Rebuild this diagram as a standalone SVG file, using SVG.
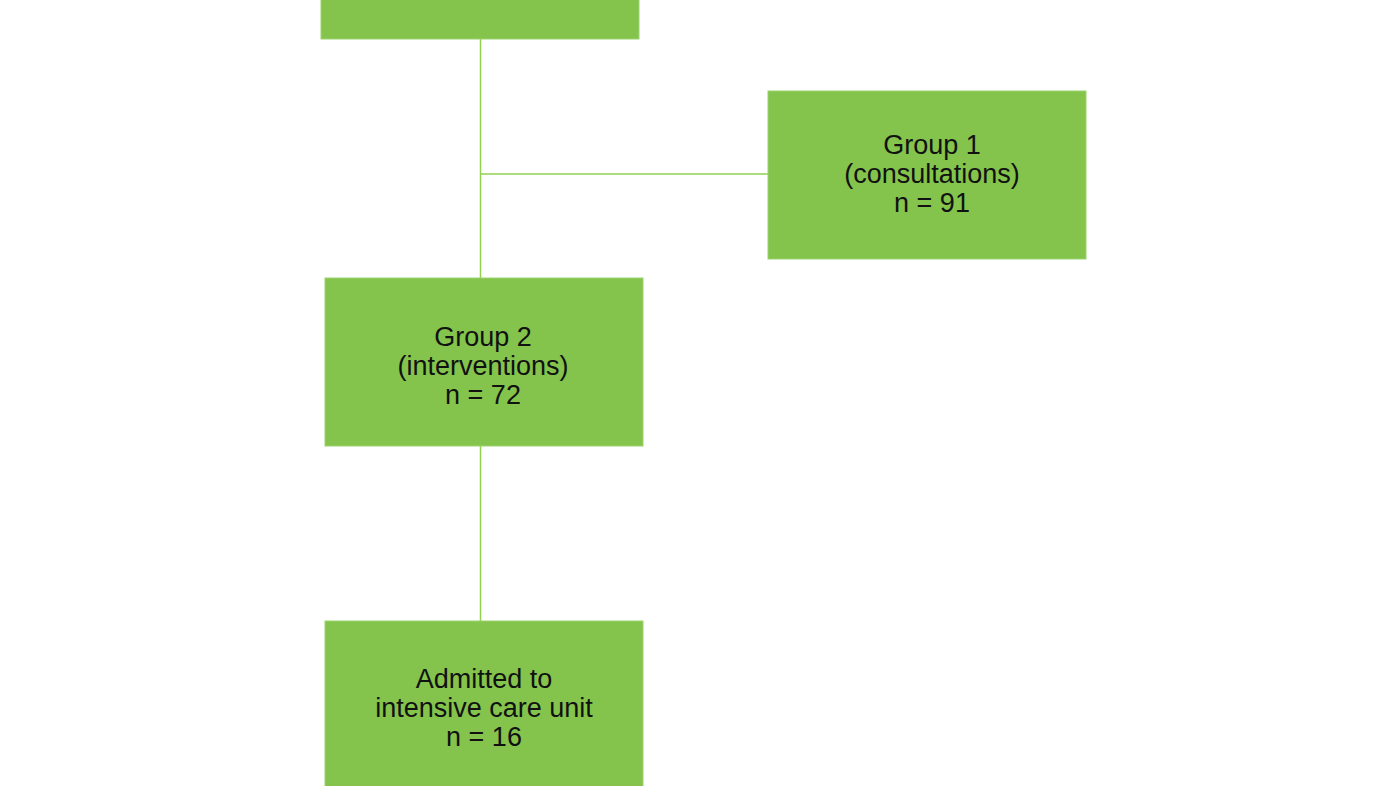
<svg xmlns="http://www.w3.org/2000/svg" width="1400" height="786" viewBox="0 0 1400 786">
<style>
.box{fill:#84C44C;stroke:#9AD46E;stroke-width:1}
.lbl{font-family:"Liberation Sans",Arial,sans-serif;font-size:27px;fill:#111;text-anchor:middle}
.conn{stroke:#92D050;stroke-width:1.5;fill:none}
</style>
<rect width="1400" height="786" fill="#fff"/>
<g id="connectors">
<line class="conn" x1="480.5" y1="39" x2="480.5" y2="278"/>
<line class="conn" x1="480.5" y1="174" x2="768" y2="174"/>
<line class="conn" x1="480.5" y1="446" x2="480.5" y2="621"/>
</g>
<g id="top">
<rect class="box" x="321" y="-5" width="318" height="44"/>
</g>
<g id="group1">
<rect class="box" x="768" y="91" width="318" height="168"/>
<text class="lbl" x="932" y="154">Group 1</text>
<text class="lbl" x="932" y="183">(consultations)</text>
<text class="lbl" x="932" y="212">n = 91</text>
</g>
<g id="group2">
<rect class="box" x="325" y="278" width="318" height="168"/>
<text class="lbl" x="483" y="346">Group 2</text>
<text class="lbl" x="483" y="375">(interventions)</text>
<text class="lbl" x="483" y="404">n = 72</text>
</g>
<g id="icu">
<rect class="box" x="325" y="621" width="318" height="170"/>
<text class="lbl" x="484" y="688">Admitted to</text>
<text class="lbl" x="484" y="717">intensive care unit</text>
<text class="lbl" x="484" y="746">n = 16</text>
</g>
</svg>
